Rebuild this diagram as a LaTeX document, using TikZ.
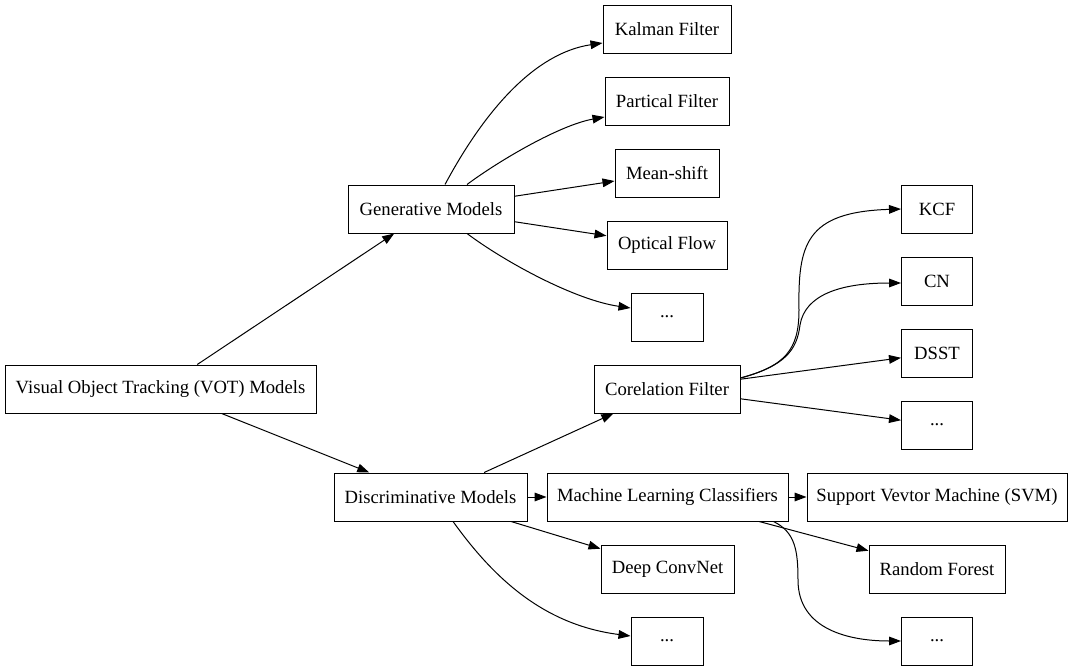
\documentclass[tikz,border=0pt]{standalone}
\usepackage{fontspec}
\setmainfont{Liberation Serif}
\usetikzlibrary{arrows.meta}
\begin{document}
\begin{tikzpicture}[x=0.75pt,y=-0.75pt,
  bx/.style={draw, line width=0.75pt, minimum height=36pt, minimum width=#1*0.75pt, inner sep=0pt,
    font=\fontsize{14pt}{16pt}\selectfont},
  ar/.style={line width=0.75pt, -{Triangle[length=9pt,width=6.5pt]}}]
\useasboundingbox (0,0) rectangle (1075,671);
% left column
\node[bx=311] (vot) at (160.5,389) {Visual Object Tracking (VOT) Models};
\node[bx=166] (gen) at (431,209) {Generative Models};
\node[bx=193] (dis) at (430.5,497) {Discriminative Models};
% middle column
\node[bx=128] (kal) at (667,29) {Kalman Filter};
\node[bx=124] (par) at (667,101) {Partical Filter};
\node[bx=104] (mea) at (667,173) {Mean-shift};
\node[bx=120] (opt) at (667,245) {Optical Flow};
\node[bx=72] (gd) at (667,317) {...};
\node[bx=146] (cf) at (667,389) {Corelation Filter};
\node[bx=241] (ml) at (667.5,497) {Machine Learning Classifiers};
\node[bx=133] (dcn) at (667.5,569) {Deep ConvNet};
\node[bx=72] (dd) at (667,641) {...};
% right column
\node[bx=71] (kcf) at (937,209) {KCF};
\node[bx=71] (cn) at (937,281) {CN};
\node[bx=71] (dsst) at (937,353) {DSST};
\node[bx=71] (cfd) at (937,425) {...};
\node[bx=260] (svm) at (937,497) {Support Vevtor Machine (SVM)};
\node[bx=136] (rf) at (937,569) {Random Forest};
\node[bx=71] (mld) at (937,641) {...};
% helper coordinates
\coordinate (k1) at (799,310);
\coordinate (c1) at (800,325);
\coordinate (m1) at (798,580);
% edges
\draw[ar] (vot) -- (gen);
\draw[ar] (vot) -- (dis);
\draw[ar] ([xshift=10.5pt]gen.north) .. controls (485,110) and (535,53) .. ([yshift=-10.5pt]kal.west);
\draw[ar] ([xshift=27pt]gen.north) .. controls (500,160) and (560,125) .. ([yshift=-12pt]par.west);
\draw[ar] (gen) -- (mea);
\draw[ar] (gen) -- (opt);
\draw[ar] ([xshift=27pt]gen.south) .. controls (505,262) and (575,300) .. ([yshift=6.75pt]gd.west);
\draw[ar] (dis) -- (cf);
\draw[ar] (dis) -- (ml);
\draw[ar] (dis) -- (dcn);
\draw[ar] ([xshift=16.9pt]dis.south) .. controls (495,580) and (545,625) .. ([yshift=3.75pt]dd.west);
\draw[ar] ([yshift=8.25pt]cf.east) .. controls (785,366) and (799,350) .. (k1)
  .. controls (798,245) and (805,212) .. (kcf.west);
\draw[ar] ([yshift=8.25pt]cf.east) .. controls (785,366) and (797,350) .. (c1)
  .. controls (805,295) and (840,283) .. ([yshift=-1.5pt]cn.west);
\draw[ar] (cf) -- (dsst);
\draw[ar] (cf) -- (cfd);
\draw[ar] (ml) -- (svm);
\draw[ar] (ml) -- (rf);
\draw[ar] ([xshift=-11.25pt]ml.south east) .. controls (795,532) and (798,550) .. (m1)
  .. controls (798,630) and (850,641) .. (mld.west);
\end{tikzpicture}
\end{document}
